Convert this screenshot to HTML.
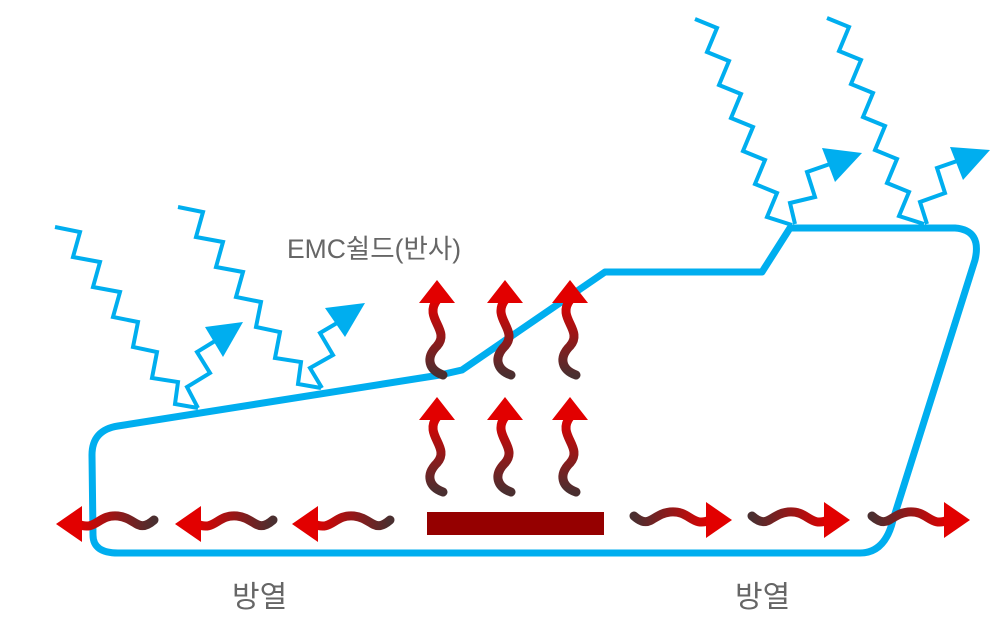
<!DOCTYPE html>
<html><head><meta charset="utf-8"><style>
body{margin:0;background:#fff;width:1000px;height:630px;overflow:hidden}
svg{display:block}
text{font-family:"Liberation Sans","Noto Sans CJK KR",sans-serif;fill:#666}
</style></head><body>
<svg id="s" width="1000" height="630" viewBox="0 0 1000 630" xmlns="http://www.w3.org/2000/svg">
<defs>
<linearGradient id="gv" x1="0" y1="0" x2="0" y2="1"><stop offset="0" stop-color="#e00000"/><stop offset="1" stop-color="#4a2f30"/></linearGradient>
<linearGradient id="gl" x1="0" y1="0" x2="1" y2="0"><stop offset="0" stop-color="#e00000"/><stop offset="1" stop-color="#4a2f30"/></linearGradient>
<linearGradient id="gr" x1="1" y1="0" x2="0" y2="0"><stop offset="0" stop-color="#e00000"/><stop offset="1" stop-color="#4a2f30"/></linearGradient>
</defs>
<path d="M93,535 L92,455 Q92,430 118,426 L440,375 L462,370 L605,272 L762,272 L790,228 L955,228 Q982,230 975,260 L893,520 Q885,553 860,553 L118,553 Q93,553 93,535 Z" fill="none" stroke="#00aeef" stroke-width="7" stroke-linejoin="round"/>
<g id="rays" fill="none" stroke="#00aeef" stroke-width="4" stroke-linejoin="miter"></g>
<g fill="#00aeef">
<polygon points="205,327 243,322 223,357"/>
<polygon points="325,308 365,303 345,337"/>
<polygon points="822,148 862,153 835,182"/>
<polygon points="950,147 990,150 963,180"/>
</g>
<g id="heat"></g>
<rect x="427" y="512" width="177" height="23" fill="#950000"/>
<text x="287" y="258" font-size="26.5">EMC쉴드(반사)</text>
<text x="232" y="607" font-size="30">방열</text>
<text x="735" y="607" font-size="30">방열</text>
</svg>
<script>
var NS="http://www.w3.org/2000/svg";
var rays=document.getElementById('rays');
function poly(pts,dx,dy){dx=dx||0;dy=dy||0;var p=document.createElementNS(NS,'polyline');p.setAttribute('points',pts.map(function(a){return (a[0]+dx)+','+(a[1]+dy)}).join(' '));rays.appendChild(p);}
var L=[[55,227],[80,232],[73,257],[100,262],[93,287],[120,292],[113,317],[138,322],[133,347],[157,352],[152,378],[178,382],[175,404],[198,408]];
poly(L);poly(L,123,-20);
var R=[[695,19],[717,28],[707,52],[729,61],[719,85],[741,94],[731,118],[753,127],[743,151],[765,160],[755,184],[777,193],[767,217],[792,225]];
poly(R);poly(R,132,-1);
poly([[198,408],[187,387],[210,373],[197,352],[215,341]]);
poly([[322,388],[310,368],[333,355],[320,333],[337,323]]);
poly([[795,224],[790,203],[815,197],[807,172],[830,164]]);
poly([[927,224],[920,202],[945,193],[937,168],[960,160]]);
var h=document.getElementById('heat'),s='';
function vert(cx,ty){s+='<path d="M'+cx+','+(ty+20)+' C'+(cx-14)+','+(ty+38)+' '+(cx+14)+','+(ty+50)+' '+cx+','+(ty+66)+' C'+(cx-12)+','+(ty+78)+' '+(cx-8)+','+(ty+90)+' '+(cx+6)+','+(ty+95)+'" fill="none" stroke="url(#gv)" stroke-width="9" stroke-linecap="round"/>';
s+='<polygon points="'+cx+','+ty+' '+(cx+18)+','+(ty+23)+' '+(cx-18)+','+(ty+23)+'" fill="#e20000"/>';}
[437,505,570].forEach(function(x){vert(x,280);vert(x,397);});
function left(tx,y){s+='<path d="M'+(tx+22)+','+y+' C'+(tx+40)+','+(y+8)+' '+(tx+42)+','+(y-10)+' '+(tx+62)+','+(y-8)+' C'+(tx+80)+','+(y-6)+' '+(tx+82)+','+(y+10)+' '+(tx+98)+','+(y-4)+'" fill="none" stroke="url(#gl)" stroke-width="9" stroke-linecap="round"/>';
s+='<polygon points="'+tx+','+y+' '+(tx+26)+','+(y-18)+' '+(tx+26)+','+(y+18)+'" fill="#e20000"/>';}
function right(tx,y){s+='<path d="M'+(tx-22)+','+y+' C'+(tx-40)+','+(y+8)+' '+(tx-42)+','+(y-10)+' '+(tx-62)+','+(y-8)+' C'+(tx-80)+','+(y-6)+' '+(tx-82)+','+(y+10)+' '+(tx-98)+','+(y-4)+'" fill="none" stroke="url(#gr)" stroke-width="9" stroke-linecap="round"/>';
s+='<polygon points="'+tx+','+y+' '+(tx-26)+','+(y-18)+' '+(tx-26)+','+(y+18)+'" fill="#e20000"/>';}
[56,175,292].forEach(function(x){left(x,524)});
[732,850,970].forEach(function(x){right(x,520)});
h.innerHTML=s;
</script>
</body></html>
